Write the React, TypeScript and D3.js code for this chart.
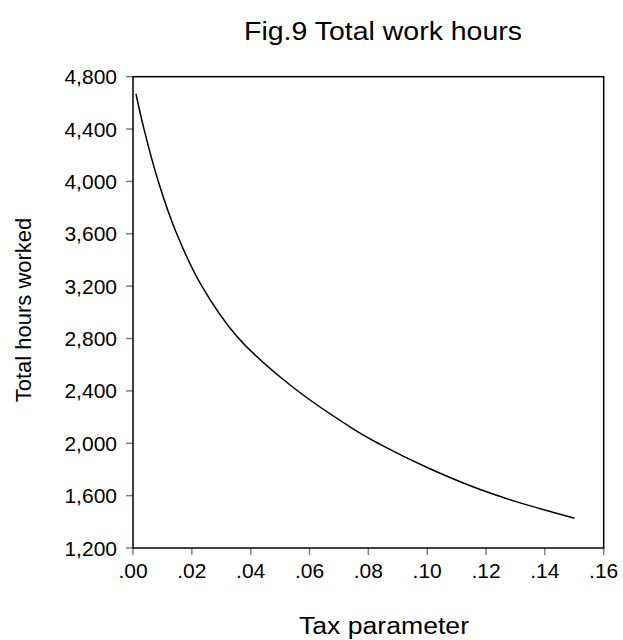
import React, { useEffect, useRef } from "react";
import * as d3 from "d3";

const taxParam = [0.001, 0.00374, 0.0086, 0.01486, 0.0234, 0.0355, 0.0534, 0.0755, 0.084, 0.1, 0.1169, 0.13, 0.1501];
const hoursWorked = [4670, 4400, 4000, 3600, 3200, 2812, 2445, 2101, 1992, 1815, 1656, 1556, 1427];
const xTicks = [0, 0.02, 0.04, 0.06, 0.08, 0.1, 0.12, 0.14, 0.16];
const yTicks = [1200, 1600, 2000, 2400, 2800, 3200, 3600, 4000, 4400, 4800];

const W = 623, H = 640;
const L = 133, R = 603.7, T = 76.7, B = 548;
const FONT = "'Liberation Sans', Arial, sans-serif";

export default function App() {
  const ref = useRef<SVGSVGElement>(null);
  useEffect(() => {
    const svg = d3.select(ref.current);
    svg.selectAll("*").remove();
    const x = d3.scaleLinear().domain([0, 0.16]).range([L, R]);
    const y = d3.scaleLinear().domain([1200, 4800]).range([B, T]);
    const fmtX = (v: number) => d3.format(".2f")(v).replace(/^0/, "");
    const fmtY = d3.format(",");

    svg.append("rect").attr("width", W).attr("height", H).attr("fill", "#fff");

    const g = svg.append("g");
    yTicks.forEach((v) => {
      g.append("line").attr("x1", L - 7).attr("x2", L).attr("y1", y(v)).attr("y2", y(v))
        .attr("stroke", "#808080").attr("stroke-width", 1.5);
      g.append("text").attr("x", L - 16).attr("y", y(v)).attr("dy", "0.36em")
        .attr("text-anchor", "end").attr("font-family", FONT).attr("font-size", 21)
        .attr("fill", "#000").text(fmtY(v));
    });
    xTicks.forEach((v) => {
      g.append("line").attr("x1", x(v)).attr("x2", x(v)).attr("y1", B).attr("y2", B + 7)
        .attr("stroke", "#808080").attr("stroke-width", 1.5);
      g.append("text").attr("x", x(v)).attr("y", B + 30)
        .attr("text-anchor", "middle").attr("font-family", FONT).attr("font-size", 21)
        .attr("fill", "#000").text(fmtX(v));
    });

    svg.append("rect").attr("x", L).attr("y", T).attr("width", R - L).attr("height", B - T)
      .attr("fill", "none").attr("stroke", "#000").attr("stroke-width", 1.5);

    const data = taxParam.map((t, i) => [t, hoursWorked[i]] as [number, number]);
    const line = d3.line<[number, number]>().x((d) => x(d[0])).y((d) => y(d[1])).curve(d3.curveCatmullRom.alpha(0.5));
    svg.append("path").datum(data).attr("d", line).attr("fill", "none")
      .attr("stroke", "#000").attr("stroke-width", 1.5);

    svg.append("text").attr("x", 383).attr("y", 40).attr("text-anchor", "middle")
      .attr("font-family", FONT).attr("font-size", 25)
      .attr("textLength", 278).attr("lengthAdjust", "spacingAndGlyphs")
      .text("Fig.9 Total work hours");
    svg.append("text").attr("x", 384).attr("y", 634).attr("text-anchor", "middle")
      .attr("font-family", FONT).attr("font-size", 23)
      .attr("textLength", 170).attr("lengthAdjust", "spacingAndGlyphs")
      .text("Tax parameter");
    svg.append("text").attr("transform", `translate(31,310) rotate(-90)`).attr("text-anchor", "middle")
      .attr("font-family", FONT).attr("font-size", 22).text("Total hours worked");
  }, []);
  return (
    <svg ref={ref} width={W} height={H} style={{ position: "absolute", left: 0, top: 0 }} />
  );
}
